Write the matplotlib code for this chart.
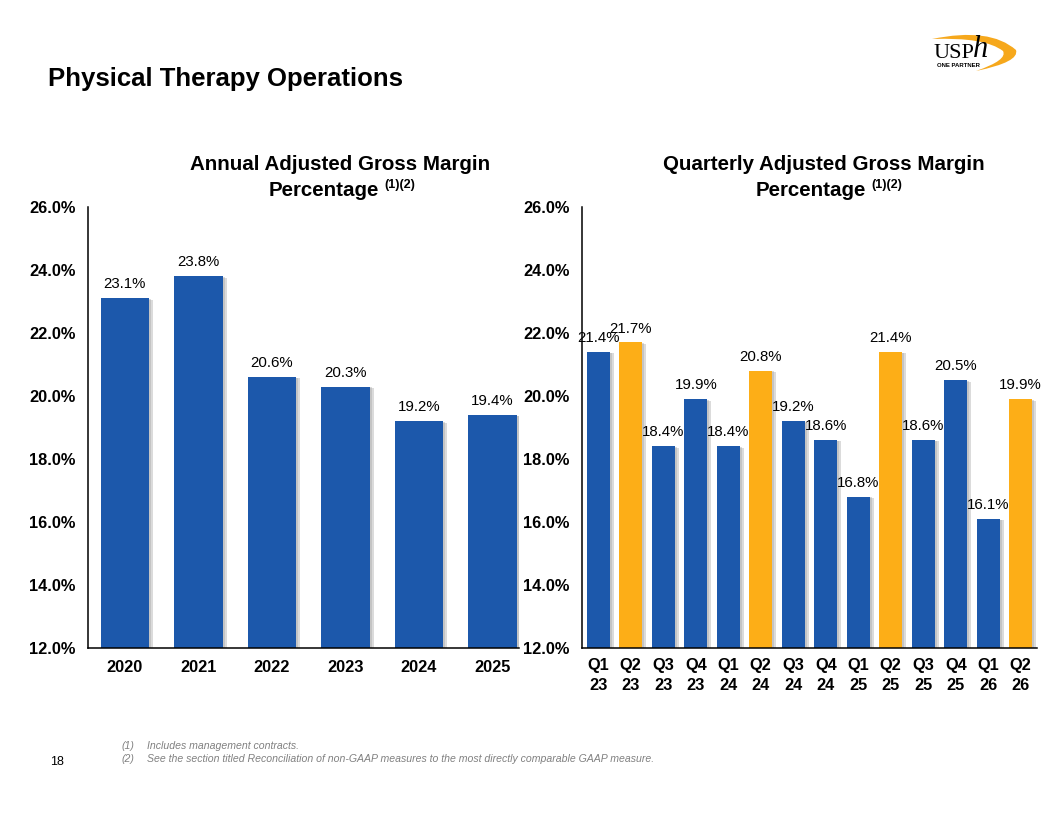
import matplotlib
matplotlib.use("Agg")
import matplotlib.pyplot as plt
import matplotlib.patheffects as pe
from matplotlib.path import Path
from matplotlib.patches import PathPatch

plt.rcParams['font.family'] = ['Liberation Sans', 'DejaVu Sans']

# ---- data ----
years = ['2020', '2021', '2022', '2023', '2024', '2025']
annual = [23.1, 23.8, 20.6, 20.3, 19.2, 19.4]

quarters = ['Q1\n23', 'Q2\n23', 'Q3\n23', 'Q4\n23', 'Q1\n24', 'Q2\n24', 'Q3\n24',
            'Q4\n24', 'Q1\n25', 'Q2\n25', 'Q3\n25', 'Q4\n25', 'Q1\n26', 'Q2\n26']
quarterly = [21.4, 21.7, 18.4, 19.9, 18.4, 20.8, 19.2, 18.6, 16.8, 21.4, 18.6, 20.5, 16.1, 19.9]
highlight = [False, True, False, False, False, True, False, False, False, True, False, False, False, True]

yticks = [12, 14, 16, 18, 20, 22, 24, 26]

BLUE = '#1C58AB'
ORANGE = '#FDAE17'

W, H = 1056, 816
fig = plt.figure(figsize=(W / 100, H / 100), dpi=100)


def px(x, y):
    return x / W, 1 - y / H


# soft grey shadow on the right side of each bar
shadow = [pe.SimplePatchShadow(offset=(3, -1), shadow_rgbFace='#9a9a9a', alpha=0.35),
          pe.SimplePatchShadow(offset=(1.5, -0.5), shadow_rgbFace='#9a9a9a', alpha=0.35),
          pe.Normal()]


def style_axes(ax):
    ax.set_ylim(12, 26)
    ax.set_yticks(yticks)
    ax.set_yticklabels([f'{v:.1f}%' for v in yticks], fontsize=11.8, fontweight='bold')
    for s in ['top', 'right']:
        ax.spines[s].set_visible(False)
    for s in ['left', 'bottom']:
        ax.spines[s].set_linewidth(1.1)
        ax.spines[s].set_color('black')
    ax.tick_params(axis='both', length=0)
    ax.tick_params(axis='y', pad=9)
    ax.tick_params(axis='x', pad=9)


# ---- annual chart ----
ax1 = fig.add_axes([88 / W, 1 - 648 / H, (519 - 88) / W, (648 - 207) / H])
x1 = range(len(years))
bars = ax1.bar(x1, annual, width=0.66, color=BLUE, zorder=2)
for b in bars:
    b.set_path_effects(shadow)
ax1.set_xlim(-0.5, 5.36)
style_axes(ax1)
ax1.set_xticks(list(x1))
ax1.set_xticklabels(years, fontsize=11.8, fontweight='bold')
for xi, v in zip(x1, annual):
    ax1.annotate(f'{v:.1f}%', (xi, v), xytext=(0, 5), textcoords='offset points',
                 ha='center', va='bottom', fontsize=10.8)

# ---- quarterly chart ----
ax2 = fig.add_axes([582 / W, 1 - 648 / H, (1037 - 582) / W, (648 - 207) / H])
x2 = range(len(quarters))
cols = [ORANGE if h else BLUE for h in highlight]
bars2 = ax2.bar(x2, quarterly, width=0.7, color=cols, zorder=2)
for b in bars2:
    b.set_path_effects(shadow)
ax2.set_xlim(-0.5, len(quarters) - 0.5)
style_axes(ax2)
ax2.set_xticks(list(x2))
ax2.set_xticklabels(quarters, fontsize=11.8, fontweight='bold', linespacing=1.42)
ax2.tick_params(axis='x', pad=7)
for xi, v in zip(x2, quarterly):
    ax2.annotate(f'{v:.1f}%', (xi, v), xytext=(0, 5), textcoords='offset points',
                 ha='center', va='bottom', fontsize=10.8)

# ---- titles ----
fig.text(*px(48, 79), 'Physical Therapy Operations', fontsize=18.5, fontweight='bold',
         ha='left', va='center')

fig.text(*px(340, 164), 'Annual Adjusted Gross Margin', fontsize=14.8, fontweight='bold',
         ha='center', va='center')
fig.text(*px(379, 190), 'Percentage', fontsize=14.8, fontweight='bold', ha='right', va='center')
fig.text(*px(384, 185), '(1)(2)', fontsize=9, fontweight='bold', ha='left', va='center')

fig.text(*px(824, 164), 'Quarterly Adjusted Gross Margin', fontsize=14.8, fontweight='bold',
         ha='center', va='center')
fig.text(*px(866, 190), 'Percentage', fontsize=14.8, fontweight='bold', ha='right', va='center')
fig.text(*px(871, 185), '(1)(2)', fontsize=9, fontweight='bold', ha='left', va='center')

# ---- footnotes ----
fig.text(*px(50, 762), '18', fontsize=9, ha='left', va='center')
fig.text(*px(121, 746), '(1)', fontsize=7.6, style='italic', color='#808080', va='center')
fig.text(*px(147, 746), 'Includes management contracts.', fontsize=7.6, style='italic',
         color='#808080', va='center')
fig.text(*px(121, 759), '(2)', fontsize=7.6, style='italic', color='#808080', va='center')
fig.text(*px(147, 759), 'See the section titled Reconciliation of non-GAAP measures to the most '
         'directly comparable GAAP measure.', fontsize=7.6, style='italic', color='#808080',
         va='center')

# ---- logo ----
lg = fig.add_axes([925 / W, 1 - 75 / H, 100 / W, 50 / H])
lg.set_xlim(925, 1025)
lg.set_ylim(75, 25)
lg.axis('off')
verts = [(932, 39), (990, 27), (1016, 50), (1020, 62), (976, 71),
         (1008, 60), (1003, 51), (985, 37), (932, 39)]
codes = [Path.MOVETO, Path.CURVE3, Path.CURVE3, Path.CURVE3, Path.CURVE3,
         Path.CURVE3, Path.CURVE3, Path.CURVE3, Path.CURVE3]
lg.add_patch(PathPatch(Path(verts, codes), facecolor='#F6A81C', edgecolor='none'))
lg.text(933, 58, 'USP', fontsize=16, family='Liberation Serif', ha='left', va='baseline')
lg.text(973, 57, 'h', fontsize=22, family='Liberation Serif', style='italic', ha='left',
        va='baseline')
lg.text(937, 67, 'ONE PARTNER', fontsize=4.3, fontweight='bold', ha='left', va='baseline')

fig.savefig('out.png', dpi=100)
